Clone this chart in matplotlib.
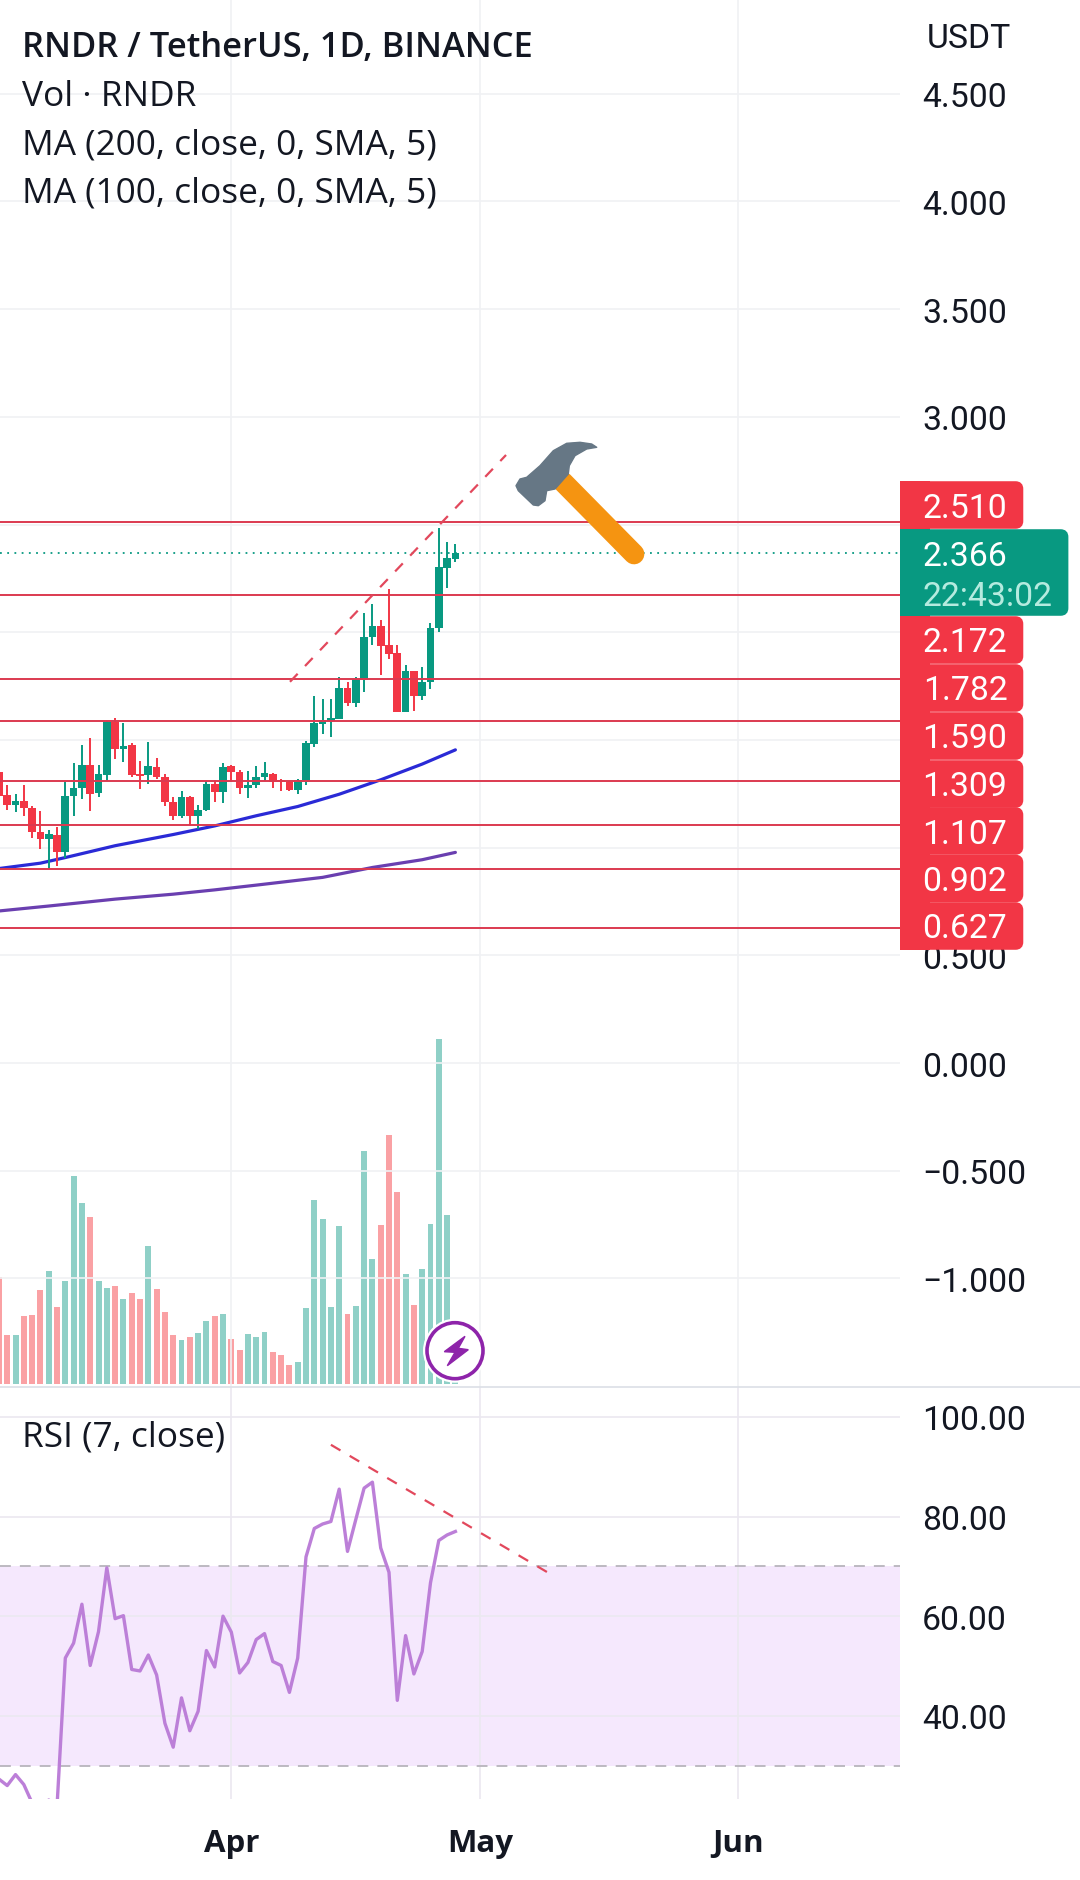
import numpy as np
import matplotlib
matplotlib.use('Agg')
import matplotlib.pyplot as plt
from matplotlib.patches import Circle, FancyBboxPatch, Polygon, Rectangle

#daily candles, day 0 is 1 Apr
days = np.arange(-28, 28)
opens = [1.352,1.244,1.199,1.216,1.183,1.071,1.041,1.061,0.978,1.238,1.278,1.383,1.253,1.337,1.584,1.460,1.476,1.344,1.337,1.374,
         1.330,1.214,1.149,1.235,1.148,1.174,1.295,1.259,1.377,1.349,1.275,1.292,1.329,1.344,1.315,1.303,1.269,1.306,1.481,1.575,
         1.590,1.597,1.739,1.672,1.779,1.979,2.027,1.940,1.903,1.631,1.818,1.703,1.771,2.021,2.299,2.341]
closes = [1.241,1.199,1.217,1.182,1.071,1.041,1.063,0.978,1.238,1.279,1.383,1.250,1.341,1.584,1.460,1.474,1.337,1.334,1.378,1.329,
          1.213,1.148,1.235,1.148,1.177,1.295,1.259,1.374,1.349,1.275,1.293,1.330,1.346,1.306,1.303,1.269,1.312,1.484,1.578,1.594,
          1.604,1.739,1.672,1.782,1.980,2.027,1.937,1.900,1.631,1.818,1.705,1.771,2.022,2.301,2.343,2.367]
highs = [1.357,1.290,1.248,1.290,1.194,1.171,1.081,1.094,1.303,1.391,1.476,1.507,1.383,1.589,1.600,1.578,1.484,1.400,1.491,1.414,
         1.344,1.233,1.261,1.238,1.197,1.310,1.315,1.391,1.383,1.361,1.354,1.377,1.396,1.346,1.321,1.310,1.318,1.493,1.702,1.690,
         1.690,1.790,1.768,1.790,2.089,2.131,2.055,2.200,1.943,1.850,1.818,1.841,2.041,2.482,2.417,2.408]
lows = [1.238,1.176,1.166,1.148,1.046,0.993,0.900,0.916,0.954,1.148,1.225,1.171,1.236,1.310,1.411,1.396,1.326,1.272,1.295,1.318,
        1.194,1.129,1.137,1.101,1.086,1.170,1.213,1.207,1.306,1.248,1.231,1.278,1.310,1.278,1.264,1.264,1.248,1.292,1.468,1.527,
        1.513,1.597,1.659,1.654,1.724,1.940,1.802,1.875,1.628,1.628,1.635,1.685,1.736,2.002,2.206,2.327]
volume = [107,49,49,68,69,94,113,77,103,208,181,167,103,96,98,85,91,85,138,95,
          72,49,44,47,51,63,68,70,45,34,50,47,52,32,29,19,22,76,184,165,
          77,158,70,78,233,125,159,249,192,110,79,115,160,345,169,10]
rsi = [27.3,26.0,28.2,26.2,22.5,20.5,23.1,21.8,51.6,54.6,62.4,50.1,56.9,69.7,59.5,60.1,49.3,49.0,52.2,48.2,
       38.5,33.7,43.6,37.0,40.9,53.1,49.8,60.0,56.8,48.6,50.7,55.3,56.5,50.9,50.1,44.7,51.6,71.9,77.6,78.5,
       79.0,85.5,73.0,79.4,85.7,86.9,73.7,68.8,43.1,56.1,48.4,52.9,66.7,75.2,76.3,77.0]

#moving averages, read at a few days
ma100_days = [-28,-23,-20,-14,-7,-2,3,8,13,18,23,27]
ma100 = [0.903,0.928,0.954,1.009,1.061,1.101,1.148,1.191,1.248,1.315,1.388,1.454]
ma200_days = [-28,-22,-14,-7,-2,3,11,17,23,27]
ma200 = [0.706,0.729,0.761,0.784,0.804,0.826,0.862,0.908,0.944,0.978]

levels = [2.510,2.172,1.782,1.590,1.309,1.107,0.902,0.627]
last_price = 2.366
countdown = '22:43:02'

price_ticks = [4.5,4.0,3.5,3.0,2.5,2.0,1.5,1.0,0.5,0.0,-0.5,-1.0]
hidden_ticks = [2.5,2.0,1.5,1.0]  #these sit behind the price tags
rsi_ticks = [100,80,60,40]
month_days = [0,30,61]
month_names = ['Apr','May','Jun']

trend_days = [7.07,33.1]
trend_price = [1.770,2.823]
rsi_trend_days = [12.0,38.2]
rsi_trend = [94.4,68.7]

green = '#089981'
red = '#f23645'
line_red = '#dc3a50'
grid = '#f0f1f4'
W, H = 1080, 1881

plt.rcParams['font.family'] = ['Roboto', 'DejaVu Sans']
fig = plt.figure(figsize=(W/100, H/100), dpi=100)

def pane(top, bottom):
    return fig.add_axes([0, 1-bottom/H, 900/W, (bottom-top)/H])

def price_label(t):
    if t in hidden_ticks:
        return ''
    return '%.3f' % t if t >= 0 else '\u2212%.3f' % -t

xlim = (-27.87, 80.57)

#price pane
ax = pane(0, 1388)
ax.set_xlim(xlim)
ax.set_ylim(-1.504, 4.94)
ax_vol = ax.twinx()
ax_vol.set_ylim(-3, 1385)
ax_vol.axis('off')
ax.set_zorder(ax_vol.get_zorder()+1)
ax.patch.set_visible(False)
vol_colors = ['#8fd0c7' if c >= o else '#faa1a4' for o, c in zip(opens, closes)]
ax_vol.bar(days, volume, width=0.72, color=vol_colors)

ax.set_yticks(price_ticks)
ax.set_yticklabels([price_label(t) for t in price_ticks])
ax.yaxis.tick_right()
ax.tick_params(axis='y', length=0, pad=16, labelsize=24.3, labelcolor='#131722')
ax.set_xticks(month_days)
ax.tick_params(axis='x', length=0, labelbottom=False)
ax.grid(color=grid, lw=1.2, zorder=0)
ax.set_axisbelow(True)
for s in ax.spines.values():
    s.set_visible(False)

ax.plot(ma100_days, ma100, color='#2a2ad6', lw=2.3, solid_capstyle='round', zorder=2)
ax.plot(ma200_days, ma200, color='#6a3fb0', lw=2.3, solid_capstyle='round', zorder=2)

candle_colors = [green if c >= o else red for o, c in zip(opens, closes)]
ax.vlines(days, lows, highs, colors=candle_colors, lw=1.4, zorder=3)
bottoms = np.minimum(opens, closes)
ax.bar(days, np.abs(np.array(closes)-np.array(opens)), bottom=bottoms, width=0.92, color=candle_colors, zorder=3)

ax.hlines(levels, xlim[0], xlim[1], colors=line_red, lw=1.4, zorder=4)
ax.plot(xlim, [last_price, last_price], color=green, lw=1.3, ls=(0, (1, 3)), zorder=4)
ax.plot(trend_days, trend_price, color='#e2485c', lw=1.6, ls=(0, (5, 4.8)), zorder=5)

#rsi pane
ax_rsi = pane(1388, 1800)
ax_rsi.set_xlim(xlim)
ax_rsi.set_ylim(23.3, 106)
ax_rsi.axhspan(30, 70, color='#f5e8fd', lw=0, zorder=0)
ax_rsi.hlines([70, 30], xlim[0], xlim[1], colors='#b8b4bc', lw=1.3, linestyles=(0, (6, 5)), zorder=1)
ax_rsi.set_yticks(rsi_ticks)
ax_rsi.set_yticklabels(['%.2f' % t for t in rsi_ticks])
ax_rsi.yaxis.tick_right()
ax_rsi.set_xticks(month_days)
ax_rsi.set_xticklabels(month_names, fontweight='bold', fontsize=22.5, family=['Open Sans', 'DejaVu Sans'])
ax_rsi.tick_params(axis='y', length=0, pad=16, labelsize=24.3, labelcolor='#131722')
ax_rsi.tick_params(axis='x', length=0, pad=21, labelcolor='#131722')
ax_rsi.grid(color='#ebe8f0', lw=1.2, zorder=0)
ax_rsi.set_axisbelow(True)
for s in ax_rsi.spines.values():
    s.set_visible(False)
ax_rsi.plot(days, rsi, color='#bc7fd8', lw=2.4, zorder=3)
ax_rsi.plot(rsi_trend_days, rsi_trend, color='#e2485c', lw=1.6, ls=(0, (5, 4.8)), zorder=4)

#overlay in pixels for legend text, price tags and icons
top = fig.add_axes([0, 0, 1, 1], zorder=20)
top.set_xlim(0, W)
top.set_ylim(H, 0)
top.axis('off')
top.patch.set_visible(False)
top.plot([0, W], [1388, 1388], color='#dcdfe6', lw=1.2)

sans = ['Open Sans', 'DejaVu Sans']
top.text(22, 48, 'RNDR / TetherUS, 1D, BINANCE', fontsize=24.8, fontweight='semibold', family=sans, va='center', color='#131722')
for y, s in zip([97, 145, 193, 1438], ['Vol \u00b7 RNDR', 'MA (200, close, 0, SMA, 5)', 'MA (100, close, 0, SMA, 5)', 'RSI (7, close)']):
    top.text(22, y, s, fontsize=25.4, family=sans, va='center', color='#131722')
top.text(969, 39, 'USDT', fontsize=24.3, ha='center', va='center', color='#131722')

def tag(y0, y1, right, color):
    top.add_patch(FancyBboxPatch((905, y0+3), right-908, y1-y0-6, boxstyle='round,pad=0,rounding_size=1', mutation_scale=5,
                                 fc=color, ec=color, lw=4))
    top.add_patch(Rectangle((900, y0), 30, y1-y0, fc=color, ec='none'))

tag_tops = [482, 617, 665, 713, 761, 808, 855.5, 903]
for y0, v in zip(tag_tops, levels):
    tag(y0, y0+48, 1023.5, red)
    top.text(965, y0+26.5, '%.3f' % v, color='#ffffff', fontsize=24.3, ha='center', va='center')
tag(530, 617, 1068.6, green)
top.text(923, 557, '%.3f' % last_price, color='#ffffff', fontsize=24.3, va='center')
top.text(923, 597, countdown, color='#b5ebdf', fontsize=24.3, va='center')

#hammer
top.plot([563, 634], [483, 555], color='#f59411', lw=14.9, solid_capstyle='round', zorder=6)
head = [(516,486.7),(520,480),(526.7,478.3),(540,466.7),(553.3,451.7),(566.7,444.3),(580,443.3),(591.7,445),(596.7,448.3),
        (586.7,450),(575,456.7),(569.3,466.7),(568.3,475),(555,490),(546.7,491.7),(545,501.7),(538.3,506.7),(533.3,506),(518.3,491.7)]
top.add_patch(Polygon(head, closed=True, fc='#667785', ec='#667785', lw=1, joinstyle='round', zorder=7))

#lightning badge
top.add_patch(Circle((455, 1351.7), 32, fc='#ffffff', ec='none'))
top.add_patch(Circle((455, 1351.7), 28, fc='#ffffff', ec='#8e24aa', lw=2.6))
bolt = [(465,1337.3),(444.3,1352.7),(455,1353.3),(447.3,1366.7),(468.3,1350.7),(458.3,1349.3)]
top.add_patch(Polygon(bolt, closed=True, fc='#8e24aa', ec='#8e24aa', lw=1))

plt.savefig('out.png', dpi=100)
